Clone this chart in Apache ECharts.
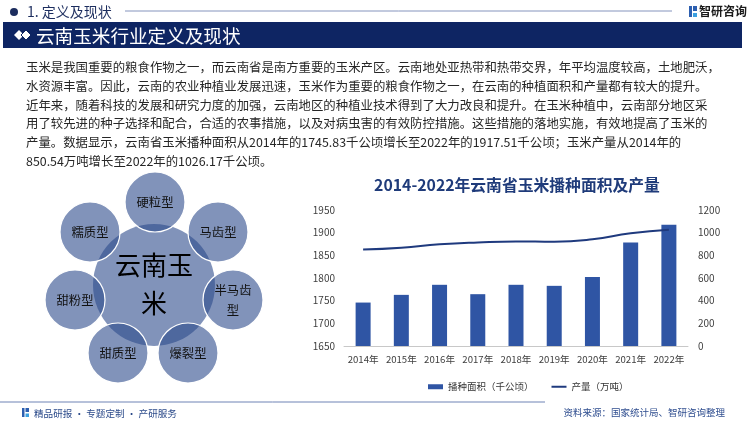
<!DOCTYPE html>
<html><head><meta charset="utf-8">
<script src="https://cdn.jsdelivr.net/npm/echarts@6/dist/echarts.min.js"></script>
<style>html,body{margin:0;padding:0;background:#fff}#c{width:750px;height:421px}</style>
</head><body><div id="c"></div>
<script>
const years = ['2014年','2015年','2016年','2017年','2018年','2019年','2020年','2021年','2022年'];
const area = [1745.83, 1762.8, 1785, 1764.3, 1785, 1782.7, 1802, 1878.5, 1917.51];
const output = [850.54, 867, 897, 914, 923, 920, 941, 994, 1026.17];
const leftTicks = {min:1650, max:1950, interval:50};
const rightTicks = {min:0, max:1200, interval:200};
const paraLines = [
 '玉米是我国重要的粮食作物之一，而云南省是南方重要的玉米产区。云南地处亚热带和热带交界，年平均温度较高，土地肥沃，',
 '水资源丰富。因此，云南的农业种植业发展迅速，玉米作为重要的粮食作物之一，在云南的种植面积和产量都有较大的提升。',
 '近年来，随着科技的发展和研究力度的加强，云南地区的种植业技术得到了大力改良和提升。在玉米种植中，云南部分地区采',
 '用了较先进的种子选择和配合，合适的农事措施，以及对病虫害的有效防控措施。这些措施的落地实施，有效地提高了玉米的',
 '产量。数据显示，云南省玉米播种面积从2014年的1745.83千公顷增长至2022年的1917.51千公顷；玉米产量从2014年的',
 '850.54万吨增长至2022年的1026.17千公顷。'
];
const types = ['硬粒型','马齿型','半马齿\n型','爆裂型','甜质型','甜粉型','糯质型'];

const FONT = '"Noto Sans CJK SC", "Microsoft YaHei", sans-serif';
const chart = echarts.init(document.getElementById('c'));
const g = [];
// header
g.push({type:'circle', shape:{cx:14, cy:12, r:4}, style:{fill:'#1c2d5e'}});
g.push({type:'text', style:{x:27, y:12, text:'1. 定义及现状', fill:'#1c2d5e', font:'14px '+FONT, textVerticalAlign:'middle'}});
g.push({type:'line', shape:{x1:125, y1:11, x2:672, y2:11}, style:{stroke:'#8594bd', lineWidth:1}});
g.push({type:'rect', shape:{x:689, y:6, width:3, height:11}, style:{fill:'#2d5fb0'}});
g.push({type:'rect', shape:{x:693, y:6, width:4, height:5}, style:{fill:'#2d5fb0'}});
g.push({type:'rect', shape:{x:693, y:13, width:4, height:4}, style:{fill:'#3ba0e0'}});
g.push({type:'text', style:{x:699, y:11.5, text:'智研咨询', fill:'#1a1a1a', font:'bold 12px '+FONT, textVerticalAlign:'middle'}});
// banner
g.push({type:'rect', shape:{x:3, y:22, width:739, height:26}, style:{fill:'#0e2563'}});
g.push({type:'polygon', shape:{points:[[19,30],[24,35],[19,40],[14,35]]}, style:{fill:'#ffffff'}});
g.push({type:'polygon', shape:{points:[[26,30],[31,35],[26,40],[21,35]]}, style:{fill:'#ffffff', stroke:'#0e2563', lineWidth:1}});
g.push({type:'text', style:{x:36, y:35.5, text:'云南玉米行业定义及现状', fill:'#ffffff', font:'18.6px '+FONT, textVerticalAlign:'middle'}});
// paragraph
paraLines.forEach((t,i)=>{
  g.push({type:'text', style:{x:26, y:67.5+18.7*i, text:t, fill:'#262626', font:'12.4px '+FONT, textVerticalAlign:'middle'}});
});
// circle diagram
const fillC = 'rgba(45,75,140,0.6)';
g.push({type:'circle', shape:{cx:154, cy:285, r:61}, style:{fill:fillC}});
const pos = [[155,202],[218,232],[233,300],[188,353],[118,353],[75,300],[90,232]];
pos.forEach((p,i)=>{
  g.push({type:'circle', shape:{cx:p[0], cy:p[1], r:30}, style:{fill:fillC, stroke:'#ffffff', lineWidth:1.2}});
  g.push({type:'text', style:{x:p[0], y:p[1], text:types[i], fill:'#111111', font:'12.3px '+FONT, textAlign:'center', textVerticalAlign:'middle', lineHeight:20}});
});
g.push({type:'text', style:{x:154, y:265, text:'云南玉', fill:'#000', font:'26px '+FONT, textAlign:'center', textVerticalAlign:'middle'}});
g.push({type:'text', style:{x:154, y:303, text:'米', fill:'#000', font:'26px '+FONT, textAlign:'center', textVerticalAlign:'middle'}});
// footer
g.push({type:'line', shape:{x1:0, y1:402, x2:545, y2:402}, style:{stroke:'#6f83b5', lineWidth:1}});
g.push({type:'rect', shape:{x:22, y:408, width:2.5, height:9}, style:{fill:'#2d5fb0'}});
g.push({type:'rect', shape:{x:25.5, y:408, width:3.5, height:4}, style:{fill:'#2d5fb0'}});
g.push({type:'rect', shape:{x:25.5, y:413.5, width:3.5, height:3.5}, style:{fill:'#3ba0e0'}});
g.push({type:'text', style:{x:34, y:413, text:'精品研报 · 专题定制 · 产研服务', fill:'#2b4a8a', font:'9.6px '+FONT, textVerticalAlign:'middle'}});
g.push({type:'text', style:{x:725, y:412, text:'资料来源：国家统计局、智研咨询整理', fill:'#2e4d8f', font:'9.5px '+FONT, textAlign:'right', textVerticalAlign:'middle'}});
// chart title
g.push({type:'text', style:{x:517, y:185, text:'2014-2022年云南省玉米播种面积及产量', fill:'#1f3b7a', font:'bold 15.8px '+FONT, textAlign:'center', textVerticalAlign:'middle'}});

const axisLbl = {color:'#404040', fontSize:10, fontFamily:FONT, formatter:v=>String(v)};
chart.setOption({
  animation:false,
  textStyle:{fontFamily:FONT},
  graphic:g,
  grid:{left:344, right:62, top:210, bottom:75, containLabel:false},
  legend:{left:423, top:377, itemWidth:15, itemHeight:5, itemGap:18, symbolKeepAspect:true,
    textStyle:{color:'#333', fontSize:9.5, fontFamily:FONT},
    data:[{name:'播种面积（千公顷）', icon:'rect'}, {name:'产量（万吨）', icon:'path://M0,0h15v2h-15z'}]},
  xAxis:{type:'category', data:years, axisTick:{show:false},
    axisLine:{lineStyle:{color:'#c8c8c8'}}, axisLabel:{color:'#404040', fontSize:9.6, fontFamily:FONT, interval:0, margin:9}},
  yAxis:[
    {type:'value', min:leftTicks.min, max:leftTicks.max, interval:leftTicks.interval, splitLine:{show:false}, axisLabel:Object.assign({margin:9}, axisLbl)},
    {type:'value', min:rightTicks.min, max:rightTicks.max, interval:rightTicks.interval, splitLine:{show:false}, axisLabel:Object.assign({margin:10}, axisLbl)}
  ],
  series:[
    {name:'播种面积（千公顷）', type:'bar', data:area, barWidth:15, itemStyle:{color:'#2f55a4'}},
    {name:'产量（万吨）', type:'line', yAxisIndex:1, data:output, smooth:true, symbol:'none', lineStyle:{color:'#1f3a7e', width:2}, itemStyle:{color:'#1f3a7e'}}
  ]
});
</script></body></html>
